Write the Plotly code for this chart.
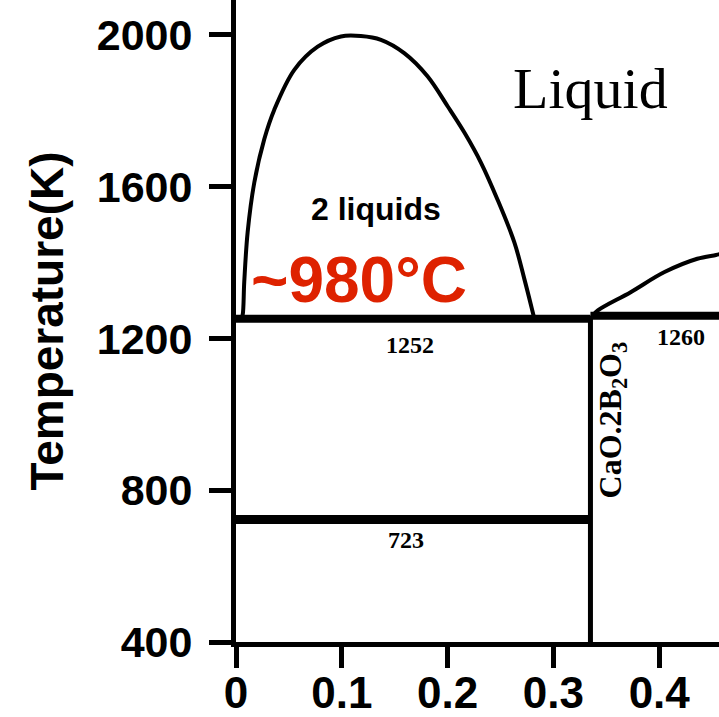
import plotly.graph_objects as go

# ---- data ----
x_tick_vals = [0, 0.1, 0.2, 0.3, 0.4]
x_tick_text = ["0", "0.1", "0.2", "0.3", "0.4"]
y_tick_vals = [400, 800, 1200, 1600, 2000]
y_tick_text = ["400", "800", "1200", "1600", "2000"]

# miscibility gap (2 liquids) dome
dome_x = [0.005, 0.0063, 0.0078, 0.011, 0.0173, 0.0267, 0.0362, 0.0551, 0.0772, 0.0992, 0.118,
          0.137, 0.159, 0.181, 0.200, 0.216, 0.2316, 0.247, 0.263, 0.2725, 0.2804, 0.282]
dome_T = [1252, 1262, 1349, 1480, 1611, 1725, 1803, 1908, 1969, 1996, 1997,
          1987, 1952, 1891, 1812, 1742, 1663, 1567, 1454, 1357, 1270, 1252]

# liquidus to the right of CaO.2B2O3
liq_x = [0.337, 0.342, 0.373, 0.405, 0.436, 0.4537, 0.46]
liq_T = [1260, 1274, 1322, 1375, 1410, 1420, 1424]

compound_x = 0.335          # CaO.2B2O3
monotectic_T = 1252
peritectic_T = 1260
lower_T = 723
x_end = 0.46
T_min = 400

fig = go.Figure()

# thick invariant lines
fig.add_trace(go.Scatter(x=[0, compound_x], y=[monotectic_T, monotectic_T], mode="lines",
                         line=dict(color="black", width=8), hoverinfo="skip"))
fig.add_trace(go.Scatter(x=[compound_x, x_end], y=[peritectic_T, peritectic_T], mode="lines",
                         line=dict(color="black", width=8), hoverinfo="skip"))
fig.add_trace(go.Scatter(x=[0, compound_x], y=[lower_T, lower_T], mode="lines",
                         line=dict(color="black", width=9), hoverinfo="skip"))
# compound vertical line
fig.add_trace(go.Scatter(x=[compound_x, compound_x], y=[T_min, peritectic_T], mode="lines",
                         line=dict(color="black", width=5), hoverinfo="skip"))
# dome
fig.add_trace(go.Scatter(x=dome_x, y=dome_T, mode="lines", line_shape="spline",
                         line=dict(color="black", width=4), hoverinfo="skip"))
# liquidus
fig.add_trace(go.Scatter(x=liq_x, y=liq_T, mode="lines", line_shape="spline",
                         line=dict(color="black", width=4), hoverinfo="skip"))

sans = "Liberation Sans, Arial, sans-serif"
serif = "Liberation Serif, Times New Roman, serif"

annotations = [
    dict(x=0.3346, y=1860, text="Liquid", font=dict(family=serif, size=58, color="black")),
    dict(x=0.1327, y=1541, text="<b>2 liquids</b>", font=dict(family=sans, size=32, color="black")),
    dict(x=0.1167, y=1353, text="<b>~980°C</b>", font=dict(family=sans, size=64, color="#DE2200")),
    dict(x=0.1644, y=1184, text="<b>1252</b>", font=dict(family=serif, size=24, color="black")),
    dict(x=0.1606, y=669, text="<b>723</b>", font=dict(family=serif, size=24, color="black")),
    dict(x=0.4206, y=1205, text="<b>1260</b>", font=dict(family=serif, size=24, color="black")),
    dict(x=0.3554, y=984, text="<b>CaO.2B<sub>2</sub>O<sub>3</sub></b>", textangle=-90,
         font=dict(family=serif, size=32, color="black")),
]
for a in annotations:
    a.update(xref="x", yref="y", showarrow=False, xanchor="center", yanchor="middle")

fig.update_layout(
    template="none",
    width=719, height=717, autosize=False,
    margin=dict(l=236, r=0, t=0, b=75, pad=0),
    paper_bgcolor="white", plot_bgcolor="white",
    showlegend=False,
    annotations=annotations,
    xaxis=dict(range=[0, 0.4565], tickvals=x_tick_vals, ticktext=x_tick_text,
               automargin=False,
               showgrid=False, zeroline=False, showline=True, linecolor="black", linewidth=5,
               ticks="outside", ticklen=21, tickwidth=5, tickcolor="black",
               tickfont=dict(family=sans, size=44, color="black", weight="bold"),
               ticklabelstandoff=-13),
    yaxis=dict(range=[400, 2092], tickvals=y_tick_vals, ticktext=y_tick_text,
               automargin=False,
               showgrid=False, zeroline=False, showline=True, linecolor="black", linewidth=5,
               ticks="outside", ticklen=22, tickwidth=5, tickcolor="black",
               tickfont=dict(family=sans, size=43, color="black", weight="bold"),
               ticklabelstandoff=8,
               title=dict(text="Temperature(K)", standoff=20,
                          font=dict(family=sans, size=46, color="black", weight="bold"))),
)

fig.write_html("out.html",
               config={"displayModeBar": False},
               post_script="document.body.style.margin='0';document.body.style.overflow='hidden';")
